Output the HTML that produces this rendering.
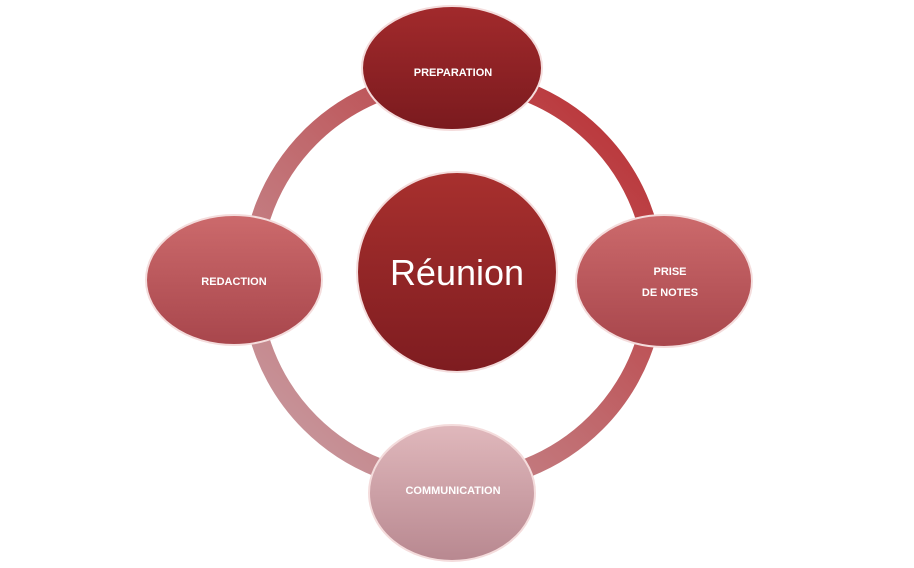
<!DOCTYPE html>
<html><head><style>body{margin:0;background:#fff}svg{display:block}</style></head><body>
<svg width="914" height="568" viewBox="0 0 914 568" xmlns="http://www.w3.org/2000/svg">
<defs>
<linearGradient id="ring" x1="1" y1="0" x2="0" y2="1">
<stop offset="0" stop-color="#b92a2e"/><stop offset="0.5" stop-color="#c0686c"/><stop offset="1" stop-color="#c9a0a6"/></linearGradient>
<linearGradient id="top" x1="0" y1="0" x2="0" y2="1"><stop offset="0" stop-color="#a22a2c"/><stop offset="1" stop-color="#7a1a1e"/></linearGradient>
<linearGradient id="ctr" x1="0" y1="0" x2="0" y2="1"><stop offset="0" stop-color="#a8302e"/><stop offset="1" stop-color="#7e1c20"/></linearGradient>
<linearGradient id="side" x1="0" y1="0" x2="0" y2="1"><stop offset="0" stop-color="#cc6a6c"/><stop offset="1" stop-color="#a8464c"/></linearGradient>
<linearGradient id="bot" x1="0" y1="0" x2="0" y2="1"><stop offset="0" stop-color="#e0b8bc"/><stop offset="1" stop-color="#b88890"/></linearGradient>
</defs>
<circle cx="453" cy="280" r="202" fill="none" stroke="url(#ring)" stroke-width="19"/>
<g stroke="#f4dcdc" stroke-width="2">
<ellipse cx="452" cy="68" rx="90" ry="62" fill="url(#top)"/>
<circle cx="457" cy="272" r="100" fill="url(#ctr)"/>
<ellipse cx="234" cy="280" rx="88" ry="65" fill="url(#side)"/>
<ellipse cx="664" cy="281" rx="88" ry="66" fill="url(#side)"/>
<ellipse cx="452" cy="493" rx="83" ry="68" fill="url(#bot)"/>
</g>
<g font-family="Liberation Sans, sans-serif" font-weight="bold" font-size="11" fill="#fff" text-anchor="middle">
<text x="453" y="76">PREPARATION</text>
<text x="234" y="285">REDACTION</text>
<text x="670" y="275">PRISE</text>
<text x="670" y="296">DE NOTES</text>
<text x="453" y="494">COMMUNICATION</text>
</g>
<text x="457" y="285" font-family="Liberation Sans, sans-serif" font-size="36" fill="#fff" text-anchor="middle">Réunion</text>
</svg>
</body></html>
